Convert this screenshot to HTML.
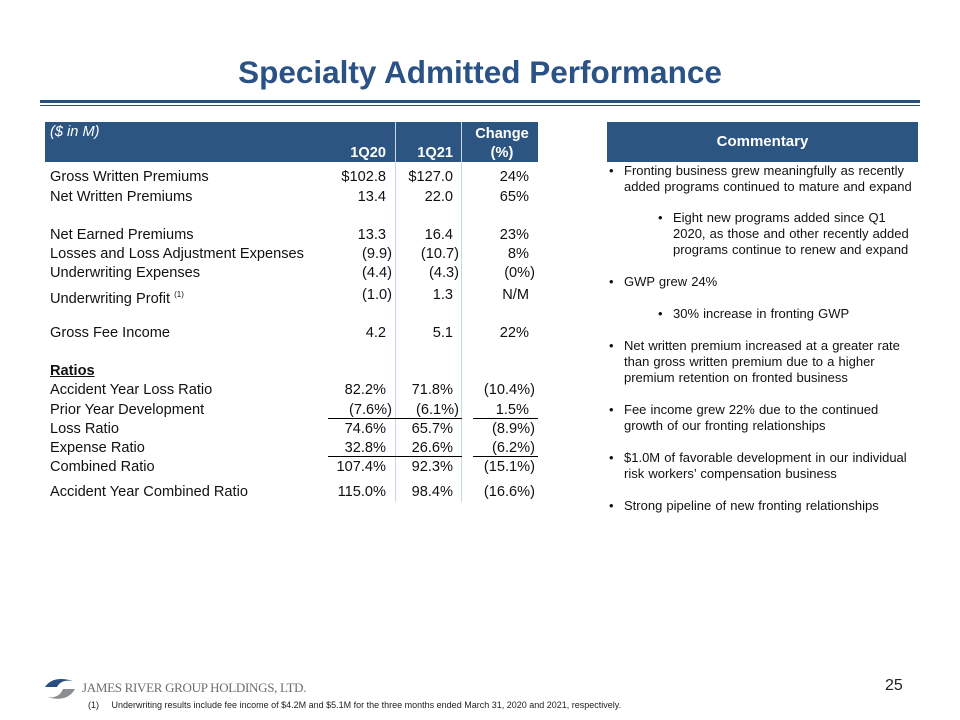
<!DOCTYPE html>
<html><head><meta charset="utf-8"><style>
body{margin:0;width:960px;height:720px;background:#fff;position:relative;overflow:hidden;font-family:"Liberation Sans",Arial,sans-serif;color:#111}
.a{position:absolute;white-space:nowrap}
.t{font-size:14.6px;line-height:16px}
.r{text-align:right}
.c{font-size:13px;line-height:16px;color:#111;word-spacing:0.5px}
</style></head><body>
<div class="a" style="left:0;width:960px;top:54px;text-align:center;font-size:31.5px;font-weight:bold;color:#2a5285;line-height:36px">Specialty Admitted Performance</div>
<div class="a" style="left:40px;width:880px;top:100px;height:3px;background:#2a4f7e"></div>
<div class="a" style="left:40px;width:880px;top:105px;height:1px;background:#2a4f7e"></div>

<div class="a" style="left:45px;top:122px;width:493px;height:40px;background:#2c5582"></div>
<div class="a" style="left:395px;top:122px;width:1px;height:380px;background:#c5d8e8"></div>
<div class="a" style="left:461px;top:122px;width:1px;height:380px;background:#c5d8e8"></div>
<div class="a t" style="left:50px;top:124px;color:#fff;font-style:italic">($ in M)</div>
<div class="a t r" style="left:300px;width:86px;top:145px;color:#fff;font-weight:bold">1Q20</div>
<div class="a t r" style="left:380px;width:73px;top:145px;color:#fff;font-weight:bold">1Q21</div>
<div class="a t" style="left:470px;width:64px;top:125px;color:#fff;font-weight:bold;text-align:center;line-height:19px">Change<br>(%)</div>

<div id="rows"></div>

<div class="a" style="left:328px;width:134px;top:418px;height:1px;background:#000"></div>
<div class="a" style="left:473px;width:65px;top:418px;height:1px;background:#000"></div>
<div class="a" style="left:328px;width:134px;top:456px;height:1px;background:#000"></div>
<div class="a" style="left:473px;width:65px;top:456px;height:1px;background:#000"></div>

<div class="a" style="left:607px;top:122px;width:311px;height:40px;background:#2c5582;color:#fff;font-weight:bold;font-size:15px;line-height:40px;text-align:center">Commentary</div>
<div id="comm"></div>

<div class="a" style="left:885px;top:677px;font-size:16px;color:#222">25</div>
<svg class="a" style="left:43px;top:675px" width="34" height="28" viewBox="0 0 34 28"><path d="M2 12 Q10 0 30 6 Q18 4 14 12 Z" fill="#2a4f7e"/><path d="M32 14 Q24 28 4 22 Q16 24 20 14 Z" fill="#8a8d91"/></svg>
<div class="a" style="left:82px;top:680px;font-family:'Liberation Serif',serif;font-size:13px;color:#6a6d72;letter-spacing:-0.3px">JAMES RIVER GROUP HOLDINGS, LTD.</div>
<div class="a" style="left:88px;top:700px;font-size:9px;color:#222">(1)&nbsp;&nbsp;&nbsp;&nbsp;&nbsp;Underwriting results include fee income of $4.2M and $5.1M for the three months ended March 31, 2020 and 2021, respectively.</div>

<script>
const labels=["Gross Written Premiums","Net Written Premiums","Net Earned Premiums","Losses and Loss Adjustment Expenses","Underwriting Expenses","Underwriting Profit","Gross Fee Income","Ratios","Accident Year Loss Ratio","Prior Year Development","Loss Ratio","Expense Ratio","Combined Ratio","Accident Year Combined Ratio"];
const q20=["$102.8","13.4","13.3","(9.9)","(4.4)","(1.0)","4.2","","82.2%","(7.6%)","74.6%","32.8%","107.4%","115.0%"];
const q21=["$127.0","22.0","16.4","(10.7)","(4.3)","1.3","5.1","","71.8%","(6.1%)","65.7%","26.6%","92.3%","98.4%"];
const chg=["24%","65%","23%","8%","(0%)","N/M","22%","","(10.4%)","1.5%","(8.9%)","(6.2%)","(15.1%)","(16.6%)"];
const rowY=[169,189,227,246,265,287,325,363,382,402,421,440,459,484];
const host=document.getElementById('rows');
function cell(txt,left,w,top,right,name){
  const d=document.createElement('div');
  d.className='a t'+(right?' r':'');
  d.style.left=left+'px';d.style.top=top+'px';
  if(w)d.style.width=w+'px';
  d.textContent=txt;
  
  
  host.appendChild(d);return d;
}
labels.forEach((l,i)=>{
  const d=cell(l,50,0,rowY[i],false,'row-label');
  if(l==="Ratios"){d.style.fontWeight='bold';d.style.textDecoration='underline';}
  if(l==="Underwriting Profit"){d.innerHTML='Underwriting Profit <sup style="font-size:8px">(1)</sup>';}
  const p=s=>s.endsWith(')')?0:6;
  if(q20[i])cell(q20[i],250,142-p(q20[i]),rowY[i],true,'value-1q20');
  if(q21[i])cell(q21[i],330,129-p(q21[i]),rowY[i],true,'value-1q21');
  if(chg[i])cell(chg[i],420,115-(chg[i].endsWith(')')?0:6),rowY[i],true,'value-change');
});
const comm=[
 [0,163,"Fronting business grew meaningfully as recently"],[0,179,"added programs continued to mature and expand",1],
 [1,210,"Eight new programs added since Q1"],[1,226,"2020, as those and other recently added",1],[1,242,"programs continue to renew and expand",1],
 [0,274,"GWP grew 24%"],[1,306,"30% increase in fronting GWP"],
 [0,338,"Net written premium increased at a greater rate"],[0,354,"than gross written premium due to a higher",1],[0,370,"premium retention on fronted business",1],
 [0,402,"Fee income grew 22% due to the continued"],[0,418,"growth of our fronting relationships",1],
 [0,450,"$1.0M of favorable development in our individual"],[0,466,"risk workers’ compensation business",1],
 [0,498,"Strong pipeline of new fronting relationships"]];
const ch=document.getElementById('comm');
comm.forEach(c=>{
  const x=c[0]?673:624;
  const d=document.createElement('div');
  d.className='a c';d.style.left=x+'px';d.style.top=c[1]+'px';d.textContent=c[2];
  
  
  ch.appendChild(d);
  if(!c[3]){const b=document.createElement('div');b.className='a c';b.style.left=(x-15)+'px';b.style.top=c[1]+'px';b.textContent='•';
  
  
  ch.appendChild(b);}
});
</script>
</body></html>
